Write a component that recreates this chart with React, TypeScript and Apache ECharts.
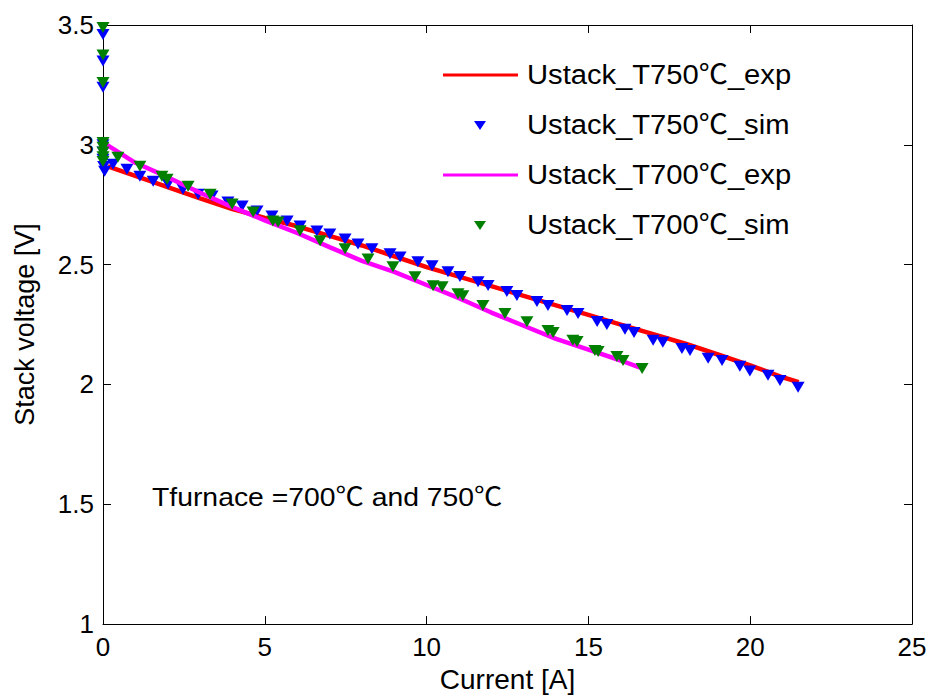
import React, { useEffect, useRef } from "react";
import * as echarts from "echarts";

const expCurrent750 = [0.15, 1, 2, 3, 4, 5, 6, 7, 8, 9, 10, 11, 12, 13, 14, 15, 16, 17, 18, 19, 20, 21, 21.5];
const expVoltage750 = [2.91, 2.87, 2.823, 2.777, 2.732, 2.695, 2.66, 2.62, 2.58, 2.535, 2.49, 2.45, 2.41, 2.37, 2.33, 2.29, 2.25, 2.21, 2.17, 2.125, 2.08, 2.03, 2.01];

const expCurrent700 = [0, 1, 2, 3, 4, 5, 6, 7, 8, 9, 10, 11, 12, 13, 14, 15, 16, 16.6];
const expVoltage700 = [3.01, 2.925, 2.865, 2.8, 2.74, 2.685, 2.632, 2.573, 2.516, 2.47, 2.415, 2.36, 2.3, 2.245, 2.19, 2.145, 2.1, 2.07];

const simCurrent750 = [0, 0, 0, 0, 0, 0, 0.02, 0.05, 0.31, 0.74, 1.14, 1.55, 2.01, 2.47, 2.94, 3.37, 3.86, 4.3, 4.76, 5.22, 5.69, 6.09, 6.61, 7.01, 7.48, 7.88, 8.31, 8.87, 9.18, 9.73, 10.17, 10.66, 11.03, 11.59, 11.9, 12.48, 12.79, 13.41, 13.75, 14.34, 14.68, 15.27, 15.57, 16.13, 16.41, 17.0, 17.3, 17.89, 18.14, 18.7, 19.13, 19.68, 19.99, 20.55, 20.92, 21.48];
const simVoltage750 = [3.46, 3.35, 3.24, 3.0, 2.97, 2.94, 2.91, 2.89, 2.919, 2.898, 2.869, 2.848, 2.836, 2.815, 2.794, 2.786, 2.761, 2.745, 2.724, 2.703, 2.682, 2.661, 2.64, 2.628, 2.607, 2.586, 2.566, 2.545, 2.532, 2.512, 2.495, 2.47, 2.45, 2.429, 2.413, 2.388, 2.371, 2.346, 2.329, 2.309, 2.296, 2.263, 2.25, 2.23, 2.217, 2.184, 2.176, 2.15, 2.142, 2.109, 2.1, 2.076, 2.056, 2.038, 2.017, 1.988];

const simCurrent700 = [0, 0, 0, 0, 0, 0, 0, 0, 0.46, 1.14, 1.82, 1.98, 2.63, 3.31, 3.99, 4.64, 5.25, 5.41, 6.09, 6.71, 7.48, 8.19, 8.96, 9.64, 10.2, 10.48, 10.97, 11.12, 11.74, 12.42, 13.1, 13.75, 13.91, 14.52, 14.65, 15.2, 15.3, 15.88, 16.07, 16.66];
const simVoltage700 = [3.49, 3.375, 3.26, 3.01, 2.99, 2.97, 2.95, 2.93, 2.948, 2.911, 2.869, 2.856, 2.827, 2.794, 2.753, 2.72, 2.682, 2.678, 2.641, 2.6, 2.566, 2.524, 2.491, 2.449, 2.412, 2.408, 2.379, 2.37, 2.329, 2.296, 2.262, 2.225, 2.217, 2.184, 2.179, 2.142, 2.138, 2.117, 2.1, 2.067];

const seriesNames = ["Ustack_T750℃_exp", "Ustack_T750℃_sim", "Ustack_T700℃_exp", "Ustack_T700℃_sim"];
const seriesColors = ["#FF0000", "#0000FF", "#FF00FF", "#008000"];
const annotation = "Tfurnace =700℃ and 750℃";

const FONT = "'Liberation Sans', 'Noto Sans CJK SC', Arial, Helvetica, sans-serif";

const zip = (xs: number[], ys: number[]) => xs.map((x, i) => [x, ys[i]]);

export default function App() {
  const ref = useRef<HTMLDivElement>(null);
  useEffect(() => {
    if (!ref.current) return;
    const chart = echarts.init(ref.current, null, { renderer: "svg" });
    const axisCommon = {
      axisLine: { show: true, onZero: false, lineStyle: { color: "#000", width: 1 } },
      axisTick: { show: true, inside: true, length: 8, lineStyle: { color: "#000" } },
      splitLine: { show: false },
    };
    const legendRows = seriesNames.map((name, i) => {
      const y = 75 + i * 50;
      const isLine = i % 2 === 0;
      const icon = isLine
        ? { type: "line", shape: { x1: 443, y1: y, x2: 518, y2: y }, style: { stroke: seriesColors[i], lineWidth: 3 } }
        : { type: "polygon", shape: { points: [[474, y - 4], [486, y - 4], [480, y + 5]] }, style: { fill: seriesColors[i] } };
      return [
        icon,
        { type: "text", x: 527, y, scaleX: 1.08, style: { text: name, fontSize: 27, fontFamily: FONT, fill: "#000", verticalAlign: "middle", align: "left" } },
      ];
    }).flat();
    chart.setOption({
      animation: false,
      backgroundColor: "#fff",
      grid: { left: 103, right: 19, top: 25, bottom: 71, containLabel: false },
      xAxis: [
        {
          type: "value", min: 0, max: 25, interval: 5, position: "bottom",
          name: "Current [A]", nameLocation: "middle", nameGap: 37,
          nameTextStyle: { fontSize: 28, fontFamily: FONT, color: "#000" },
          axisLabel: { fontSize: 26, fontFamily: FONT, color: "#000", margin: 10 },
          ...axisCommon,
        },
        { type: "value", min: 0, max: 25, interval: 5, position: "top", axisLabel: { show: false }, ...axisCommon },
      ],
      yAxis: [
        {
          type: "value", min: 1, max: 3.5, interval: 0.5, position: "left",
          name: "Stack voltage [V]", nameLocation: "middle", nameGap: 65,
          nameTextStyle: { fontSize: 27, fontFamily: FONT, color: "#000" },
          axisLabel: { fontSize: 26, fontFamily: FONT, color: "#000", margin: 9 },
          ...axisCommon,
        },
        { type: "value", min: 1, max: 3.5, interval: 0.5, position: "right", axisLabel: { show: false }, ...axisCommon },
      ],
      series: [
        {
          name: seriesNames[0], type: "line", data: zip(expCurrent750, expVoltage750),
          showSymbol: false, symbol: "none", lineStyle: { color: seriesColors[0], width: 4.5 }, z: 2,
        },
        {
          name: seriesNames[1], type: "scatter", data: zip(simCurrent750, simVoltage750),
          symbol: "triangle", symbolRotate: 180, symbolSize: [13, 11], itemStyle: { color: seriesColors[1], opacity: 1 }, z: 3,
        },
        {
          name: seriesNames[2], type: "line", data: zip(expCurrent700, expVoltage700),
          showSymbol: false, symbol: "none", lineStyle: { color: seriesColors[2], width: 4.5 }, z: 4,
        },
        {
          name: seriesNames[3], type: "scatter", data: zip(simCurrent700, simVoltage700),
          symbol: "triangle", symbolRotate: 180, symbolSize: [13, 11], itemStyle: { color: seriesColors[3], opacity: 1 }, z: 5,
        },
      ],
      graphic: [
        ...legendRows,
        { type: "text", x: 152, y: 497, scaleX: 1.09, style: { text: annotation, fontSize: 26, fontFamily: FONT, fill: "#000", verticalAlign: "middle", align: "left" } },
      ],
    });
    return () => chart.dispose();
  }, []);
  return <div ref={ref} style={{ position: "absolute", left: 0, top: 0, width: 931, height: 698 }} />;
}
